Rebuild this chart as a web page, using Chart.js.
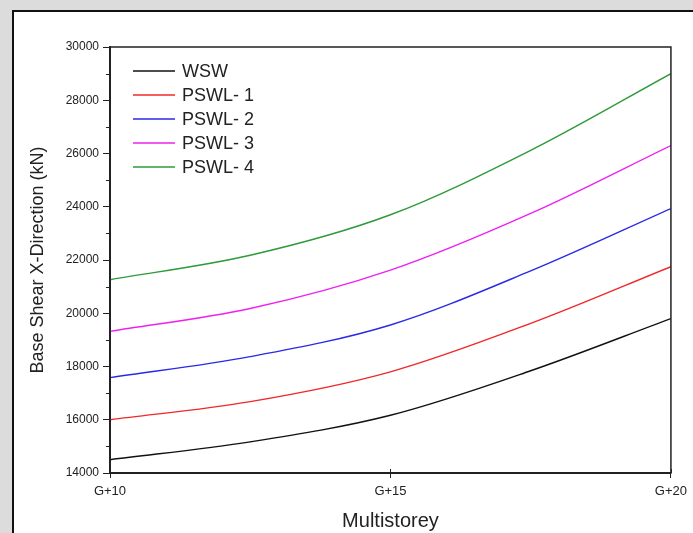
<!DOCTYPE html>
<html>
<head>
<meta charset="utf-8">
<script src="https://cdn.jsdelivr.net/npm/chart.js@4.4.1/dist/chart.umd.min.js"></script>
<style>
  html, body { margin: 0; padding: 0; }
  body { width: 693px; height: 533px; background: #dcdcdc; position: relative; overflow: hidden; }
  #sheet { position: absolute; left: 12px; top: 10px; width: 700px; height: 540px; background: #fff; border: 2px solid #111; }
  #wrap { position: absolute; left: 0; top: 0; width: 693px; height: 533px; }
</style>
</head>
<body>
<div id="sheet"></div>
<div id="wrap"><canvas id="chart" width="693" height="533"></canvas></div>
<script>
// values (storey number -> base shear, kN)
const storeys = [10, 12.5, 15, 17.5, 20];
const xTicks = [10, 15, 20];
const seriesNames = ['WSW', 'PSWL- 1', 'PSWL- 2', 'PSWL- 3', 'PSWL- 4'];
const wsw   = [14500, 15170, 16170, 17840, 19800];
const pswl1 = [16000, 16680, 17800, 19620, 21750];
const pswl2 = [17580, 18370, 19560, 21590, 23930];
const pswl3 = [19320, 20180, 21620, 23750, 26300];
const pswl4 = [21260, 22180, 23700, 26120, 29000];
const colors = ['#111111', '#f0282a', '#2a2ae6', '#ee22ee', '#2e9a3a'];

const FONT = "'Liberation Sans', Arial, sans-serif";

const allSeries = [wsw, pswl1, pswl2, pswl3, pswl4];
const datasets = allSeries.map((vals, i) => ({
    label: seriesNames[i],
    data: vals.map((v, j) => ({ x: storeys[j], y: v })),
    borderColor: colors[i],
    borderWidth: 1.4,
    pointRadius: 0,
    fill: false,
    cubicInterpolationMode: 'monotone'
}));

// frame, minor ticks and inside legend
const decor = {
    id: 'decor',
    afterDraw(chart) {
        const { ctx, chartArea: a, scales } = chart;
        ctx.save();
        ctx.strokeStyle = '#222';
        ctx.lineWidth = 1.5;
        ctx.strokeRect(a.left, a.top, a.right - a.left, a.bottom - a.top);

        // minor y ticks
        ctx.lineWidth = 1;
        const y = scales.y;
        for (let v = y.min + 1000; v < y.max; v += 2000) {
            const py = Math.round(y.getPixelForValue(v)) + 0.5;
            ctx.beginPath();
            ctx.moveTo(a.left - 4, py);
            ctx.lineTo(a.left, py);
            ctx.stroke();
        }
        // x ticks poke up into plot a bit
        const x = scales.x;
        xTicks.forEach(v => {
            const px = Math.round(x.getPixelForValue(v)) + 0.5;
            ctx.beginPath();
            ctx.moveTo(px, a.bottom - 4);
            ctx.lineTo(px, a.bottom);
            ctx.stroke();
        });

        // legend
        ctx.font = '18px ' + FONT;
        ctx.textBaseline = 'middle';
        chart.data.datasets.forEach((ds, i) => {
            const ly = a.top + 24 + i * 24;
            ctx.strokeStyle = ds.borderColor;
            ctx.lineWidth = 1.5;
            ctx.beginPath();
            ctx.moveTo(a.left + 23, ly);
            ctx.lineTo(a.left + 65, ly);
            ctx.stroke();
            ctx.fillStyle = '#222';
            ctx.fillText(ds.label, a.left + 72, ly + 1);
        });
        ctx.restore();
    }
};

new Chart(document.getElementById('chart'), {
    type: 'line',
    data: { datasets },
    plugins: [decor],
    options: {
        responsive: false,
        animation: false,
        layout: { padding: { left: 24, top: 47, right: 20, bottom: 0 } },
        plugins: { legend: { display: false }, tooltip: { enabled: false } },
        scales: {
            x: {
                type: 'linear',
                min: 10,
                max: 20,
                afterFit: s => { s.height = 60; },
                afterBuildTicks: s => { s.ticks = xTicks.map(v => ({ value: v })); },
                ticks: {
                    callback: v => 'G+' + v,
                    font: { family: FONT, size: 13 },
                    color: '#222',
                    padding: 6,
                    maxRotation: 0
                },
                grid: { drawOnChartArea: false, tickLength: 5, color: '#222' },
                border: { color: '#222', width: 2 },
                title: {
                    display: true,
                    text: 'Multistorey',
                    font: { family: FONT, size: 20 },
                    color: '#222',
                    padding: { top: 0, bottom: 0 }
                }
            },
            y: {
                min: 14000,
                max: 30000,
                afterFit: s => { s.width = 86; },
                ticks: {
                    stepSize: 2000,
                    callback: v => String(v),
                    font: { family: FONT, size: 12 },
                    color: '#222',
                    padding: 4
                },
                grid: { drawOnChartArea: false, tickLength: 7, color: '#222' },
                border: { color: '#222', width: 2 },
                title: {
                    display: true,
                    text: 'Base Shear X-Direction (kN)',
                    font: { family: FONT, size: 18 },
                    color: '#222',
                    padding: { top: 3, bottom: 0 }
                }
            }
        }
    }
});
</script>
</body>
</html>
